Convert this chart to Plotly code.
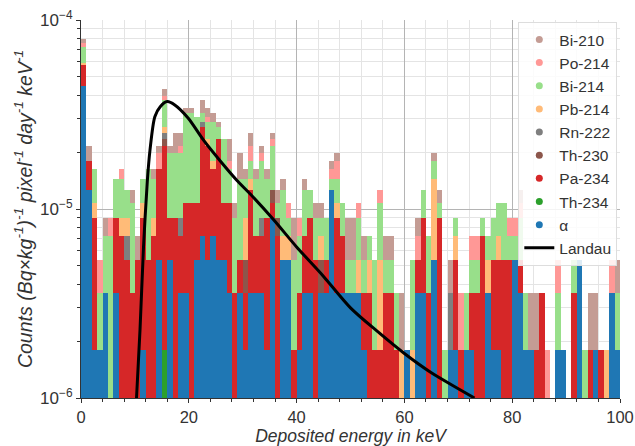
import numpy as np
import plotly.graph_objects as go

# ---------------- data (counts per 1 keV bin, 0..100 keV) ----------------
COUNT_UNIT = 1.8e-6  # (Bq/kg)^-1 pixel^-1 day^-1 keV^-1 per count
bin_centers = np.arange(0.5, 100, 1.0)

alpha = [25,7,1,1,2,0,2,0,0,0, 0,1,0,0,3,0,3,0,2,2, 0,3,4,3,4,3,3,2,0,2,
         1,2,2,2,1,5,0,3,3,0, 1,2,2,0,2,2,7,2,2,2, 2,2,1,0,0,0,0,0,0,0,
         1,0,2,2,0,3,0,0,1,1, 0,1,1,0,0,2,1,1,0,0, 3,2,1,1,0,0,0,0,1,1,
         0,0,3,0,0,1,0,0,2,1]
th234 = [0]*15 + [1] + [0]*84
pa234 = [7,3,4,0,0,0,3,4,3,2, 3,4,3,4,6,11,2,5,2,4, 6,3,11,9,5,10,3,4,2,1,
         1,5,2,2,4,1,4,0,0,1, 1,2,3,3,0,1,0,3,2,0, 0,0,1,2,1,1,2,2,1,0,
         0,0,1,3,2,0,5,0,0,2, 1,0,1,2,4,0,2,2,3,3, 0,1,0,0,1,2,0,0,0,0,
         0,2,0,0,1,0,1,0,0,0]
th230 = [0,0,0,0,0,0,0,0,0,0, 0,0,0,0,0,1,0,0,0,0, 0,0,0,0,0,0,0,0,0,0,
         1,0,0,0,0,1,1,0,0,0, 0,0,0,0,1,0,0,0,0,0, 0,0,0,0,0,0,0,0,0,0,
         0,0,0,0,0,0,0,0,0,0, 0,0,0,0,0,0,0,0,0,0, 0,0,0,0,0,0,0,0,0,0,
         0,0,0,0,0,0,0,0,0,0]
rn222 = [0,0,0,0,0,0,0,0,1,0, 0,0,0,0,0,1,0,0,1,0, 0,0,1,0,0,0,0,0,0,0,
         0,0,0,1,0,0,0,0,0,0, 0,0,0,0,0,0,0,0,0,0, 0,0,0,0,0,0,0,0,0,0,
         0,0,0,0,0,0,0,0,1,0, 0,0,0,0,0,0,0,0,0,0, 0,0,0,0,0,0,0,0,0,0,
         0,0,0,0,0,0,0,0,0,0]
pb214 = [1,0,1,0,0,0,0,1,1,0, 0,1,0,1,0,1,0,0,0,0, 0,0,0,1,1,0,0,0,0,0,
         2,1,0,0,0,0,0,1,1,0, 0,0,0,0,1,0,0,1,0,0, 0,1,0,1,0,2,0,0,0,1,
         0,1,0,0,0,5,0,0,0,1, 0,0,0,0,0,1,0,1,0,0, 0,0,0,0,0,0,0,0,0,0,
         0,0,0,0,0,0,0,1,0,0]
bi214 = [7,0,3,1,2,4,3,3,2,4, 0,2,6,3,0,6,6,6,6,12, 12,11,2,3,6,2,7,3,3,5,
         3,2,4,5,3,5,1,3,1,2, 2,3,2,2,1,2,1,2,2,1, 1,2,1,1,2,3,1,1,1,0,
         0,2,0,2,2,2,1,1,0,1, 0,1,1,1,1,1,2,2,3,1, 1,2,1,0,0,0,0,0,1,0,
         0,1,0,1,0,0,0,0,0,1]
po214 = [2,0,0,1,0,1,0,1,0,0, 0,0,0,0,2,1,0,0,1,0, 0,0,0,1,0,0,0,1,0,0,
         0,2,0,1,0,1,0,0,1,0, 1,0,0,0,0,0,1,2,0,0, 0,1,0,0,0,1,0,0,0,0,
         0,0,1,0,0,0,0,0,0,0, 1,0,1,1,0,0,0,0,0,1, 1,1,0,0,0,0,1,0,1,0,
         0,0,0,0,0,0,0,0,1,0]
bi210 = [2,2,0,0,1,0,0,0,0,1, 1,0,0,1,1,2,1,3,2,1, 1,0,3,2,2,1,0,3,1,3,
         1,2,1,1,1,1,1,1,0,2, 0,1,0,1,1,0,1,1,0,2, 2,0,1,0,0,0,1,1,0,1,
         0,0,1,0,0,1,1,0,1,0, 0,0,0,0,0,0,0,0,0,0, 0,1,0,1,1,0,0,0,0,0,
         0,0,0,0,1,1,0,0,0,1]

# Landau curve
landau_e = [10.3, 10.95, 11.6, 12.3, 12.8, 13.7, 14.7, 16.0, 17.4, 19.9, 22.7,
            25.8, 28.9, 31.4, 35.7, 40, 45, 50, 55, 60, 65, 70, 73]
landau_y = [1.0e-6, 2.3e-6, 6.3e-6, 1.4e-5, 2.05e-5, 3.08e-5, 3.48e-5, 3.7e-5,
            3.55e-5, 3.02e-5, 2.32e-5, 1.8e-5, 1.42e-5, 1.2e-5, 8.8e-6, 6.3e-6,
            4.4e-6, 3.0e-6, 2.25e-6, 1.72e-6, 1.36e-6, 1.12e-6, 1.0e-6]

# stacking order, bottom -> top
series = [
    ("α", alpha, "#1f77b4"),
    ("Th-234", th234, "#2ca02c"),
    ("Pa-234", pa234, "#d62728"),
    ("Th-230", th230, "#8c564b"),
    ("Rn-222", rn222, "#7f7f7f"),
    ("Pb-214", pb214, "#ffbb78"),
    ("Bi-214", bi214, "#98df8a"),
    ("Po-214", po214, "#ff9896"),
    ("Bi-210", bi210, "#c49c94"),
]

fig = go.Figure()
for name, vals, color in series:
    fig.add_trace(go.Bar(
        x=bin_centers, y=[v * COUNT_UNIT for v in vals], width=1.0,
        marker=dict(color=color, line=dict(width=0)),
        name=name, showlegend=False, hoverinfo="skip"))

fig.add_trace(go.Scatter(x=landau_e, y=landau_y, mode="lines",
                         line=dict(color="black", width=3, shape="spline", smoothing=0.8),
                         showlegend=False))

# legend entries (circles, top to bottom)
for rank, (name, vals, color) in enumerate(reversed(series)):
    fig.add_trace(go.Scatter(x=[None], y=[None], mode="markers",
                             marker=dict(color=color, size=7, symbol="circle"),
                             name=name, legendrank=rank + 1))
fig.add_trace(go.Scatter(x=[None], y=[None], mode="lines",
                         line=dict(color="black", width=3),
                         name="Landau", legendrank=20))

minor_y = [m * 10.0 ** e for e in (-6, -5) for m in range(2, 10)]

fig.update_layout(
    width=635, height=446,
    margin=dict(l=81, r=15, t=20, b=48),
    barmode="stack", bargap=0,
    plot_bgcolor="white", paper_bgcolor="white",
    font=dict(family="Liberation Sans, Arial, sans-serif", color="#333", size=17),
    legend=dict(x=0.995, y=0.995, xanchor="right", yanchor="top", traceorder="normal",
                bgcolor="rgba(255,255,255,0.85)", bordercolor="#dddddd", borderwidth=1,
                font=dict(size=15.5, color="#333"), tracegroupgap=0, itemwidth=30),
    xaxis=dict(range=[0, 100], tickvals=[0, 20, 40, 60, 80, 100], automargin=False,
               showline=True, linecolor="#333", linewidth=1.2,
               ticks="outside", ticklen=4, tickcolor="#333", tickfont=dict(size=16.5),
               showgrid=True, gridcolor="#b4b4b4", gridwidth=1, zeroline=False,
               minor=dict(tickvals=[v for v in range(4, 100, 4) if v % 20],
                          ticks="outside", ticklen=3, tickcolor="#333",
                          showgrid=True, gridcolor="#e4e4e4"),
               title=dict(text="<i>Deposited energy in keV</i>", font=dict(size=17.5), standoff=2)),
    yaxis=dict(type="log", range=[-6, -4], automargin=False,
               tickvals=[1e-6, 1e-5, 1e-4],
               ticktext=["10<sup>−6</sup>", "10<sup>−5</sup>", "10<sup>−4</sup>"],
               showline=True, linecolor="#333", linewidth=1.2,
               ticks="outside", ticklen=4, tickcolor="#333", tickfont=dict(size=17),
               showgrid=True, gridcolor="#b4b4b4", gridwidth=1, zeroline=False,
               minor=dict(tickvals=minor_y, ticks="outside", ticklen=3, tickcolor="#333",
                          showgrid=True, gridcolor="#e4e4e4"),
               title=dict(text="<i>Counts (Bq×kg<sup>-1</sup>)<sup>-1</sup> pixel<sup>-1</sup> "
                               "day<sup>-1</sup> keV<sup>-1</sup></i>",
                          font=dict(size=19.5), standoff=2)),
)

fig.write_html("out.html")
